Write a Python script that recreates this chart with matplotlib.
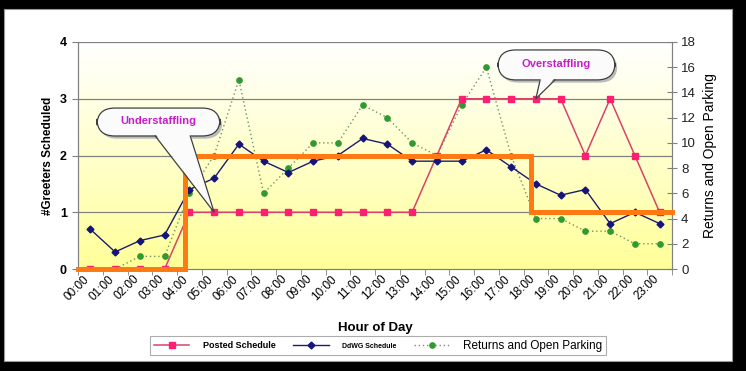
import numpy as np
import matplotlib.pyplot as plt
from matplotlib.patches import Rectangle, FancyBboxPatch, Polygon
from matplotlib.lines import Line2D
from matplotlib.transforms import ScaledTranslation

plt.rcParams['font.family'] = ['Liberation Sans', 'DejaVu Sans']

# Data
hours = ['00:00', '01:00', '02:00', '03:00', '04:00', '05:00', '06:00', '07:00',
         '08:00', '09:00', '10:00', '11:00', '12:00', '13:00', '14:00', '15:00',
         '16:00', '17:00', '18:00', '19:00', '20:00', '21:00', '22:00', '23:00']
posted = [0, 0, 0, 0, 1, 1, 1, 1, 1, 1, 1, 1, 1, 1, 2, 3, 3, 3, 3, 3, 2, 3, 2, 1]
ddwg = [0.7, 0.3, 0.5, 0.6, 1.4, 1.6, 2.2, 1.9, 1.7, 1.9, 2.0, 2.3,
        2.2, 1.9, 1.9, 1.9, 2.1, 1.8, 1.5, 1.3, 1.4, 0.8, 1.0, 0.8]
returns = [0, 0, 1, 1, 6, 9, 15, 6, 8, 10, 10, 13, 12, 10, 9, 13, 16, 9, 4, 4, 3, 3, 2, 2]

# thick orange "required" step line (levels and where they change, in category units)
req_levels = [0, 2, 1]
req_changes = [3.83, 17.8]

x = np.arange(len(hours))

fig = plt.figure(figsize=(7.46, 3.71), dpi=100, facecolor='black')
W, H = 746, 371

# white inner page
fig.patches.append(Rectangle((4 / W, 1 - 361 / H), 728 / W, 352 / H,
                             transform=fig.transFigure, facecolor='white',
                             edgecolor='#999999', lw=0.8, zorder=-5))

ax = fig.add_axes([78 / W, 1 - 269 / H, 594 / W, 227 / H])
ax2 = ax.twinx()
ax2.set_zorder(1)
ax.set_zorder(2)
ax.patch.set_visible(False)

ax.set_xlim(-0.5, 23.5)
ax.set_ylim(0, 4)

# yellow gradient background
grad = np.linspace(0, 1, 256).reshape(-1, 1)
top = np.array([1.0, 1.0, 1.0])
bot = np.array([1.0, 1.0, 0.6])
img = top + (bot - top) * grad[..., None]
ax2.imshow(img, extent=[-0.5, 23.5, 0, 18], aspect='auto', origin='upper', zorder=0)
ax2.set_xlim(-0.5, 23.5)
ax2.set_ylim(0, 18)

# horizontal gridlines
for v in [1, 2, 3, 4]:
    ax.axhline(v, color='#808080', lw=0.9, zorder=1)

# series (returns plotted against the right-hand 0-18 scale)
ret_scale = 4 / 18
l_posted, = ax.plot(x, posted, color='#D9436A', lw=1.1, marker='s', ms=4.5,
                    mfc='#FF1F72', mec='#FF1F72', zorder=3)
l_ddwg, = ax.plot(x, ddwg, color='#1C1C6E', lw=1.0, marker='D', ms=3.5,
                  mfc='#14147A', mec='#14147A', zorder=3)
l_ret, = ax.plot(x, [r * ret_scale for r in returns], color='#6F9460', lw=1.0,
                 ls=(0, (1, 2)), marker='o', ms=3.8, mfc='#2F9A2F', mec='#2F9A2F', zorder=2.8)

sx = [-0.5, req_changes[0], req_changes[0], req_changes[1], req_changes[1], 23.5]
sy = [req_levels[0], req_levels[0], req_levels[1], req_levels[1], req_levels[2], req_levels[2]]
ax.plot(sx, sy, color='#FF7A12', lw=3.6, solid_joinstyle='miter', zorder=4, clip_on=False)

# axes styling
for a in (ax, ax2):
    for s in a.spines.values():
        s.set_color('#808080')
    a.spines['top'].set_visible(False)

ax.set_yticks([0, 1, 2, 3, 4])
ax.set_yticklabels(['0', '1', '2', '3', '4'], fontsize=9, fontweight='bold')
ax.tick_params(axis='y', direction='out', length=4, color='#808080', pad=4)
ax2.set_yticks(range(0, 19, 2))
ax2.tick_params(axis='y', direction='inout', length=7, color='#808080', labelsize=9.5,
                pad=3, labelcolor='#222222')

ax.set_xticks(x)
ax.set_xticks(np.arange(-0.5, 24, 1), minor=True)
ax.tick_params(axis='x', which='major', length=0, pad=3)
ax.tick_params(axis='x', which='minor', direction='out', length=4, color='#808080')
ax.set_xticklabels(hours, rotation=45, ha='right', va='top', rotation_mode='anchor', fontsize=8.5)
shift = ScaledTranslation(-7 / 100, 0, fig.dpi_scale_trans)
for lab in ax.get_xticklabels():
    lab.set_transform(lab.get_transform() + shift)

ax.set_xlabel('Hour of Day', fontsize=9.5, fontweight='bold', labelpad=14)
ax.set_ylabel('#Greeters Scheduled', fontsize=8.5, fontweight='bold', labelpad=4)
ax2.set_ylabel('Returns and Open Parking', fontsize=10, labelpad=5)


# callouts
def callout(text, x0, y0, x1, y1, base0, base1, tip):
    tip_ax = ax.transAxes.inverted().transform(ax.transData.transform(tip))
    shadow = FancyBboxPatch((x0 + 0.004, y0 - 0.012), x1 - x0, y1 - y0,
                            boxstyle='round,pad=0,rounding_size=0.03', transform=ax.transAxes,
                            facecolor='#BBBBBB', edgecolor='none', zorder=9, clip_on=False,
                            mutation_aspect=2.5)
    box = FancyBboxPatch((x0, y0), x1 - x0, y1 - y0,
                         boxstyle='round,pad=0,rounding_size=0.03', transform=ax.transAxes,
                         facecolor='#FBFBFB', edgecolor='#404040', lw=0.9, zorder=10,
                         clip_on=False, mutation_aspect=2.5)
    ax.add_patch(shadow)
    ax.add_patch(box)
    wedge = Polygon([(base0, y0 + 0.01), (base1, y0 + 0.01), tuple(tip_ax)], closed=True,
                    transform=ax.transAxes, facecolor='#FBFBFB', edgecolor='none',
                    zorder=11, clip_on=False)
    ax.add_patch(wedge)
    ax.plot([base0, tip_ax[0], base1], [y0, tip_ax[1], y0], color='#404040', lw=0.9,
            transform=ax.transAxes, zorder=12, clip_on=False)
    ax.text((x0 + x1) / 2, (y0 + y1) / 2 + 0.005, text, transform=ax.transAxes,
            ha='center', va='center', fontsize=8, fontweight='bold', color='#C81EC8', zorder=13)


callout('Understaffling', 0.032, 0.586, 0.239, 0.709, 0.130, 0.189, (5, 1))
callout('Overstaffling', 0.707, 0.833, 0.904, 0.965, 0.778, 0.803, (18, 3))

# legend
h1 = Line2D([], [], color='#D9436A', lw=1.1, marker='s', ms=4.5, mfc='#FF1F72', mec='#FF1F72')
h2 = Line2D([], [], color='#1C1C6E', lw=1.0, marker='D', ms=3.5, mfc='#14147A', mec='#14147A')
h3 = Line2D([], [], color='#6F9460', lw=1.0, ls=(0, (1, 2)), marker='o', ms=3.8,
            mfc='#2F9A2F', mec='#2F9A2F')
leg = fig.legend([h1, h2, h3], ['Posted Schedule', 'DdWG Schedule', 'Returns and Open Parking'],
                 loc='center', bbox_to_anchor=(378 / W, 1 - 345.5 / H), ncol=3,
                 fontsize=8, frameon=True, fancybox=False, edgecolor='#999999',
                 handlelength=3.2, columnspacing=1.6, borderpad=0.35, handletextpad=1.2)
leg.get_frame().set_linewidth(0.8)
t = leg.get_texts()
t[0].set_fontsize(6.5)
t[0].set_fontweight('bold')
t[1].set_fontsize(5)
t[1].set_fontweight('bold')
t[2].set_fontsize(8.5)

fig.savefig('out.png', dpi=100, facecolor='black')
